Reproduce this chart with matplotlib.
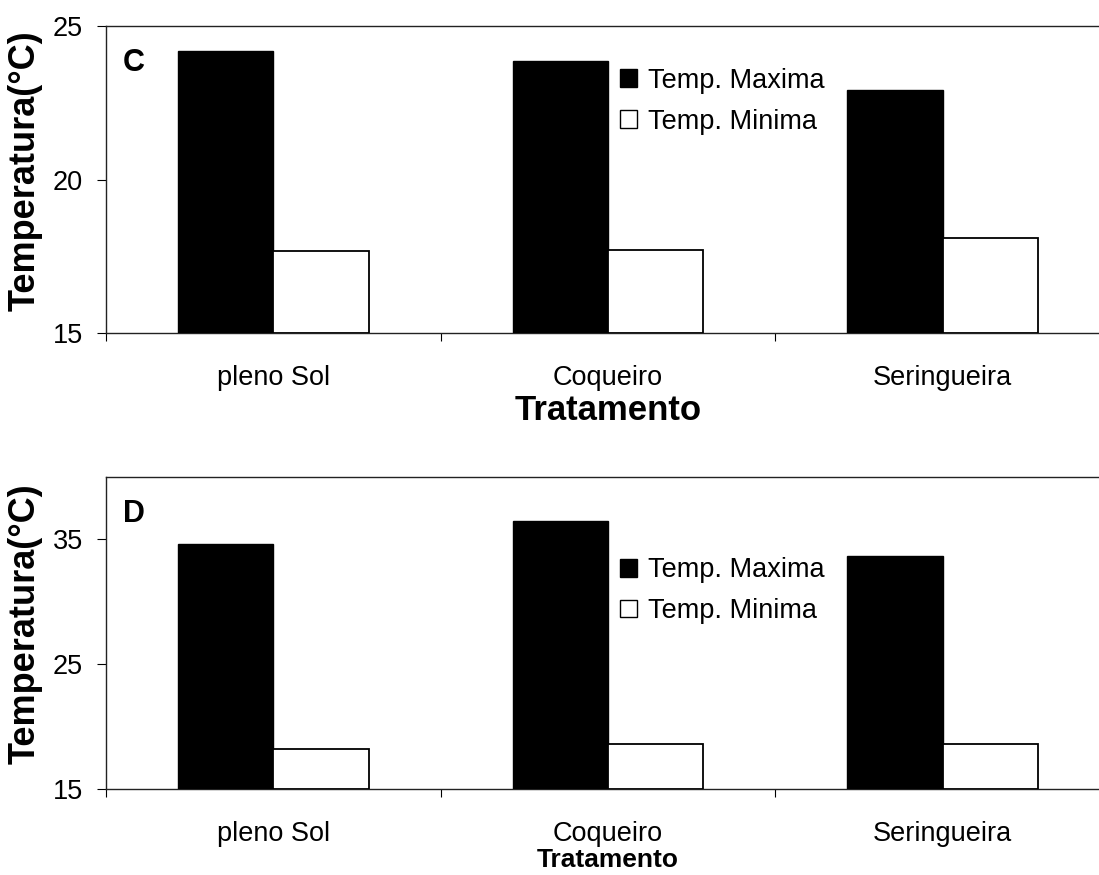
import matplotlib
matplotlib.use("Agg")
import matplotlib.pyplot as plt
from matplotlib.patches import Patch
import numpy as np

plt.rcParams['font.family'] = ['Liberation Sans', 'DejaVu Sans']

tratamentos = ['pleno Sol', 'Coqueiro', 'Seringueira']
series = ['Temp. Maxima', 'Temp. Minima']

# panel C
max_c = [24.18, 23.85, 22.93]
min_c = [17.68, 17.70, 18.08]
# panel D
max_d = [34.65, 36.46, 33.64]
min_d = [18.20, 18.62, 18.60]

W, H = 1099, 875
fig = plt.figure(figsize=(W / 100, H / 100), dpi=100)

def px_axes(left, top, right, bottom):
    return fig.add_axes([left / W, 1 - bottom / H, (right - left) / W, (bottom - top) / H])

def draw_panel(ax, vmax, vmin, ylim, yticks, letter, xlabel_size, xlabel_pad, leg_y):
    x = np.arange(len(tratamentos))
    width = 0.285
    ax.bar(x - width / 2, np.array(vmax) - ylim[0], width, bottom=ylim[0],
           color='black', edgecolor='black', linewidth=1.0, zorder=3)
    ax.bar(x + width / 2, np.array(vmin) - ylim[0], width, bottom=ylim[0],
           color='white', edgecolor='black', linewidth=1.3, zorder=3)

    ax.set_xlim(-0.5, 2.5)
    ax.set_ylim(*ylim)
    ax.set_yticks(yticks)
    ax.tick_params(axis='y', direction='out', length=6.5, width=0.8, labelsize=19.5, pad=10)

    # category boundaries as major ticks, names as minor ticks
    ax.set_xticks([-0.5, 0.5, 1.5, 2.5])
    ax.set_xticklabels([])
    ax.set_xticks(x, minor=True)
    ax.set_xticklabels(tratamentos, minor=True)
    ax.tick_params(axis='x', which='major', direction='out', length=6, width=0.8)
    ax.tick_params(axis='x', which='minor', length=0, labelsize=19.5, pad=23)

    for side in ['left', 'bottom', 'top']:
        ax.spines[side].set_color('#222222')
        ax.spines[side].set_linewidth(1.0)
    ax.spines['right'].set_visible(False)

    ax.set_ylabel('Temperatura(°C)', fontsize=26, fontweight='bold')
    ax.yaxis.set_label_coords(-0.063, 0.53)
    ax.set_xlabel('Tratamento', fontsize=xlabel_size, fontweight='bold', labelpad=xlabel_pad)

    ax.text(0.017, 0.88, letter, transform=ax.transAxes, fontsize=22,
            fontweight='bold', va='center', ha='left')

    handles = [Patch(facecolor='black', edgecolor='black'),
               Patch(facecolor='white', edgecolor='black')]
    ax.legend(handles, series, loc='upper left', bbox_to_anchor=(0.512, leg_y),
              frameon=False, fontsize=19.5, handlelength=0.62, handleheight=0.62,
              handletextpad=0.4, labelspacing=0.55, borderpad=0, borderaxespad=0)

ax_c = px_axes(106, 26, 1110, 333)
draw_panel(ax_c, max_c, min_c, (15, 25), [15, 20, 25], 'C', 25, 2, 0.864)

ax_d = px_axes(106, 476.7, 1110, 789)
draw_panel(ax_d, max_d, min_d, (15, 40), [15, 25, 35], 'D', 19, 1, 0.742)

fig.savefig('out.png', dpi=100)
